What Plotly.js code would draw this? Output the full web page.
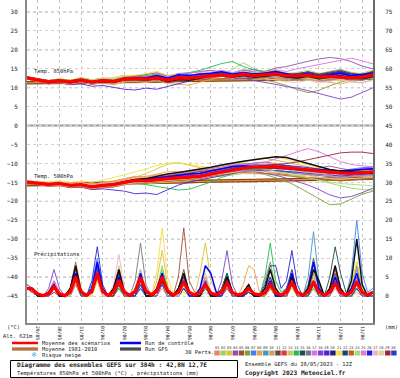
<!DOCTYPE html>
<html><head><meta charset="utf-8">
<script src="https://cdn.plot.ly/plotly-3.0.1.min.js"></script>
<style>html,body{margin:0;padding:0;background:#fff}#chart{width:400px;height:378px}</style>
</head><body><div id="chart"></div>
<script>
// ---------- DATA ----------
const hours12 = [0,12,24,36,48,60,72,84,96,108,120,132,144,156,168,180,192,204,216,228,240,252,264,276,288,300,312,324,336,348,360,372,384];
const hours6 = [0,6,12,18,24,30,36,42,48,54,60,66,72,78,84,90,96,102,108,114,120,126,132,138,144,150,156,162,168,174,180,186,192,198,204,210,216,222,228,234,240,246,252,258,264,270,276,282,288,294,300,306,312,318,324,330,336,342,348,354,360,366,372,378,384];
const tickHours = [12,36,60,84,108,132,156,180,204,228,252,276,300,324,348,372];
const dateLabels = ["29/05","30/05","31/05","01/06","02/06","03/06","04/06","05/06","06/06","07/06","08/06","09/06","10/06","11/06","12/06","13/06"];
const leftTicks = [-45,-40,-35,-30,-25,-20,-15,-10,-5,0,5,10,15,20,25,30];
const rightTicks = [0,5,10,15,20,25,30,35,40,45,50,55,60,65,70,75];
const pertNames = ["01","02","03","04","05","06","07","08","09","10","11","12","13","14","15","16","17","18","19","20","21","22","23","24","25","26","27","28","29","30"];
const pertColors = ["#f08070","#a0d060","#e0c030","#9050b0","#a05030","#80a030","#4080f0","#f0a040","#4098c8","#d0a060","#604848","#e03838","#c8c870","#20c050","#204858","#707888","#e070e0","#8040d0","#5020e0","#202070","#f0e040","#184080","#c06020","#a0e080","#e080c0","#2020e0","#f0b0c8","#e0d0a0","#a02040","#2840c0"];

// Temperature 850 hPa (°C), 12-hourly
const t850Mean = [12.6,12.0,11.5,11.8,11.5,12.0,11.5,11.8,11.6,12.3,12.4,12.2,12.6,12.0,12.6,12.5,12.8,13.0,13.4,13.0,13.6,13.2,13.3,13.6,13.2,13.1,13.3,12.8,13.0,12.9,12.6,12.8,13.4];
const t850Clim = [11.3,11.3,11.4,11.4,11.5,11.5,11.5,11.6,11.6,11.7,11.7,11.8,11.8,11.8,11.9,11.9,12.0,12.0,12.0,12.1,12.1,12.2,12.2,12.2,12.3,12.3,12.4,12.4,12.4,12.5,12.5,12.6,12.6];
const t850Control = [12.6,12.0,11.5,11.8,11.5,12.0,11.5,11.9,11.7,12.4,12.6,12.6,13.2,12.6,13.4,13.2,13.6,13.8,14.2,13.6,14.0,13.6,13.8,14.2,13.6,13.2,13.6,13.0,13.4,13.8,13.2,13.4,13.8];
const t850Gfs = [12.6,12.0,11.4,11.7,11.3,11.8,11.3,11.6,11.4,12.1,12.2,12.0,12.4,11.6,12.2,12.0,12.6,13.0,13.4,12.8,13.2,12.8,13.0,13.4,12.8,12.6,13.0,12.4,12.8,13.2,12.6,12.4,13.0];
const t850Perts = [
[12.4,11.6,11.0,12.0,11.2,12.4,11.9,12.6,12.1,13.1,12.6,11.9,13.2,12.3,13.5,13.0,14.0,13.4,14.4,13.4,14.2,13.0,12.8,13.9,12.4,12.3,13.1,12.0,12.9,13.7,13.0,12.3,13.1],
[12.8,12.4,11.9,11.4,10.8,11.6,11.0,11.3,10.7,11.6,11.9,12.7,13.4,12.5,13.1,12.0,12.3,12.9,13.8,14.8,16.6,15.0,13.8,13.0,12.6,13.5,13.9,12.8,12.2,11.8,12.9,13.6,14.2],
[12.5,12.3,11.9,12.3,12.0,12.7,12.1,12.5,12.6,13.3,12.9,13.6,14.0,12.7,12.4,11.8,12.1,12.7,13.2,12.2,13.3,14.0,14.4,14.8,13.5,12.8,12.4,11.8,12.5,13.0,13.8,13.1,12.4],
[12.7,11.8,11.2,11.4,10.9,11.3,11.0,11.8,11.9,12.8,13.1,13.4,13.9,13.1,13.7,13.8,14.3,14.6,14.1,13.7,14.5,14.8,14.3,15.2,15.6,16.4,17.0,17.6,18.0,17.7,16.9,15.7,15.0],
[12.9,12.3,11.6,11.9,11.8,12.4,11.9,11.9,11.4,12.0,12.0,11.6,12.0,11.3,11.8,12.3,12.0,12.5,13.1,12.4,13.0,12.6,13.3,13.5,12.6,12.4,13.3,12.2,11.8,12.5,12.0,12.9,13.4],
[12.4,11.7,11.1,11.9,11.3,12.2,11.3,12.1,11.8,12.6,12.2,12.5,13.0,12.1,13.0,12.5,13.4,13.8,14.2,13.3,13.9,12.8,12.2,11.4,10.6,9.5,8.7,9.3,10.5,11.5,12.2,12.8,13.5],
[12.6,12.2,11.8,11.9,11.6,12.3,11.8,11.6,11.4,12.3,12.7,12.8,13.2,12.3,13.2,13.6,13.1,13.8,14.4,13.7,14.6,14.1,13.5,14.4,13.9,13.3,14.2,13.5,14.3,14.8,14.0,13.5,14.4],
[12.7,11.9,11.3,12.1,11.2,11.7,11.1,11.4,11.0,11.8,11.9,11.4,11.8,11.1,10.9,10.7,11.5,12.1,13.0,12.5,13.5,13.8,13.1,12.4,11.8,12.5,12.9,12.0,11.4,11.0,11.7,12.3,13.0],
[12.5,12.1,11.7,11.5,11.8,12.5,11.9,12.2,12.2,12.9,12.9,12.2,12.5,12.4,13.0,12.4,13.1,12.7,13.4,12.6,13.1,12.5,12.9,13.4,12.7,13.6,14.0,13.1,13.8,14.2,13.3,12.7,13.5],
[12.3,11.8,11.2,11.6,11.1,11.7,11.7,12.0,12.1,12.7,12.5,13.0,13.4,12.2,13.2,12.7,13.4,13.6,14.0,13.1,13.8,13.1,14.0,14.6,13.5,13.1,13.2,12.2,12.9,13.4,12.4,12.3,13.1],
[12.6,11.9,11.7,12.2,11.7,12.1,11.2,11.5,11.3,11.9,12.1,11.8,12.3,11.6,12.2,12.0,12.5,13.1,13.6,12.7,13.5,12.9,13.6,14.0,13.1,12.9,13.6,12.6,13.3,13.1,12.4,12.9,13.8],
[12.8,12.4,11.9,12.3,11.8,12.4,11.8,12.1,12.1,12.8,12.5,12.1,12.9,11.9,12.9,12.7,13.2,13.4,13.8,12.9,13.8,13.5,13.7,14.2,13.3,13.1,13.8,13.1,13.8,13.9,13.3,13.1,13.9],
[12.4,11.6,11.1,11.3,11.0,11.5,11.0,11.2,10.9,11.5,11.6,11.4,12.1,11.7,12.5,12.7,13.4,12.9,13.8,13.1,14.2,13.5,13.1,12.7,12.2,12.9,12.1,11.7,12.5,13.1,13.5,13.9,14.6],
[12.6,12.3,11.9,12.1,11.9,12.5,12.1,12.4,12.3,13.0,13.1,13.2,13.6,12.9,13.6,14.0,14.6,15.4,16.4,16.9,15.6,14.7,14.1,13.5,13.1,12.5,12.9,12.1,12.7,13.1,12.3,12.1,12.9],
[12.7,12.0,11.4,11.7,11.2,11.9,11.5,11.9,11.7,12.5,12.6,12.5,12.9,11.9,12.5,12.1,12.7,13.1,13.5,12.7,13.3,12.9,13.3,13.7,12.9,12.7,13.3,12.5,12.9,13.3,12.7,12.5,13.3],
[12.4,11.7,11.3,11.6,11.2,11.7,11.2,11.4,11.2,11.8,12.0,12.0,12.5,11.9,12.5,12.3,12.7,12.9,13.1,12.5,12.9,12.5,12.7,12.9,12.3,12.1,12.5,11.9,12.1,12.5,12.1,11.9,12.7],
[12.8,12.2,11.8,12.0,11.6,12.2,11.6,11.9,11.9,12.6,12.8,12.9,13.4,12.9,13.8,13.9,14.3,14.1,14.6,14.0,14.8,14.3,13.8,14.7,14.3,15.0,15.6,16.0,16.8,17.4,17.8,17.1,16.3],
[12.6,11.9,11.3,11.5,11.1,11.6,11.0,11.4,11.2,11.9,11.9,11.7,12.1,11.5,12.1,11.9,12.3,12.6,13.1,12.3,12.6,11.9,11.5,10.9,10.3,9.9,9.2,8.4,7.6,7.0,7.5,8.7,10.0],
[12.5,11.8,11.1,11.3,10.8,11.0,10.4,10.6,10.1,9.6,9.4,9.9,9.6,10.3,11.1,11.8,12.5,12.9,13.6,13.0,13.5,13.0,13.3,13.8,12.9,12.7,13.3,12.5,13.1,13.5,12.7,12.5,13.3],
[12.7,12.2,11.7,12.1,11.7,12.3,11.8,12.2,11.9,12.6,12.5,12.2,12.9,12.2,12.9,12.6,13.1,13.5,14.0,13.2,14.0,13.5,13.5,14.0,13.2,13.8,14.2,13.4,14.0,14.4,13.6,13.4,14.2],
[12.8,12.3,11.9,12.4,12.0,12.6,12.1,12.5,12.4,13.2,13.3,13.7,14.3,13.3,13.5,13.0,13.3,13.8,14.0,13.2,13.7,13.1,13.7,14.2,13.4,12.9,12.5,12.0,12.6,13.1,12.7,12.3,13.1],
[12.5,11.8,11.2,11.5,11.1,11.8,11.3,11.6,11.3,12.0,12.1,12.1,12.5,11.9,12.5,12.6,13.0,13.3,13.7,13.2,13.7,13.5,13.7,14.2,13.7,13.5,14.0,13.5,13.7,14.2,13.7,13.2,14.0],
[12.3,11.6,11.0,11.3,10.9,11.4,10.9,11.3,11.1,11.7,11.9,11.8,12.3,11.6,12.1,11.9,12.3,12.8,13.3,12.7,13.1,12.7,13.0,13.5,12.7,12.5,13.1,12.3,12.6,13.1,12.5,12.3,13.1],
[12.7,12.4,11.9,12.2,12.0,12.5,12.1,12.4,12.3,13.0,12.9,12.8,13.2,12.5,13.2,12.9,13.4,13.8,14.2,13.7,14.4,13.9,14.1,14.6,13.8,14.1,14.6,13.8,14.3,14.8,14.0,13.7,14.6],
[12.8,12.0,11.4,11.8,11.3,11.8,11.2,11.5,11.3,12.1,12.2,12.2,12.7,11.9,12.7,12.3,12.9,13.3,13.8,12.9,13.7,13.1,13.1,12.9,12.2,11.8,12.3,11.6,11.9,12.3,11.6,11.4,12.1],
[12.6,12.2,11.8,11.7,11.4,12.2,11.7,12.1,11.8,12.5,12.6,12.5,13.0,12.1,12.9,12.6,13.1,13.5,14.0,13.1,13.9,13.6,13.9,14.4,13.6,13.3,13.9,13.1,13.6,14.1,13.3,13.1,13.9],
[12.4,11.8,11.2,12.0,11.8,12.3,11.9,12.3,12.1,12.8,12.8,12.7,13.2,12.7,13.4,13.1,13.6,13.7,14.2,13.3,14.2,13.6,13.3,13.9,13.1,12.9,13.5,12.7,13.0,13.5,12.7,12.5,13.3],
[12.6,11.8,11.3,11.4,11.0,11.6,11.0,11.4,11.1,11.8,11.9,11.8,12.2,11.5,12.2,12.0,12.5,12.7,13.3,12.5,13.2,12.7,12.5,12.0,11.6,11.4,12.0,11.2,11.7,12.2,11.5,11.2,12.0],
[12.9,12.4,11.9,12.2,11.9,12.4,11.8,12.2,12.0,12.7,12.9,12.8,13.2,12.5,13.2,12.9,13.4,13.5,14.0,13.2,14.0,13.7,13.9,14.4,13.6,13.7,14.2,13.6,14.1,14.6,13.8,13.5,14.3],
[12.5,11.9,11.4,11.9,11.4,12.1,11.4,11.9,11.5,12.4,12.3,12.4,12.9,12.1,12.9,12.5,13.1,13.3,13.9,13.1,13.9,13.3,13.4,13.9,13.1,13.2,13.7,12.9,13.2,13.7,12.9,12.7,13.5]
];

// Temperature 500 hPa (°C), 12-hourly
const t500Mean = [-14.9,-15.2,-15.5,-15.3,-15.8,-15.6,-16.2,-15.8,-15.6,-15.0,-14.5,-14.6,-14.2,-14.0,-13.8,-13.6,-13.4,-12.8,-12.2,-11.6,-11.2,-11.0,-11.0,-10.9,-11.2,-11.5,-11.8,-12.0,-12.4,-12.5,-12.6,-12.4,-12.2];
const t500Clim = [-15.6,-15.6,-15.5,-15.5,-15.4,-15.4,-15.3,-15.3,-15.2,-15.2,-15.1,-15.0,-15.0,-14.9,-14.9,-14.8,-14.7,-14.7,-14.6,-14.6,-14.5,-14.5,-14.4,-14.4,-14.3,-14.3,-14.2,-14.2,-14.1,-14.1,-14.0,-14.0,-13.9];
const t500Control = [-14.9,-15.2,-15.5,-15.3,-15.8,-15.6,-16.2,-15.8,-15.5,-14.9,-14.4,-14.2,-13.8,-13.4,-13.0,-12.8,-12.6,-12.0,-11.4,-10.8,-10.6,-10.8,-11.0,-11.2,-11.4,-11.6,-11.8,-11.6,-11.8,-12.0,-11.8,-11.6,-11.4];
const t500Gfs = [-14.9,-15.2,-15.5,-15.3,-15.8,-15.6,-16.2,-15.8,-15.5,-14.8,-14.2,-14.0,-13.4,-12.8,-12.4,-12.0,-11.6,-11.0,-10.4,-9.8,-9.4,-9.0,-8.6,-8.2,-8.4,-9.2,-10.2,-11.0,-11.6,-12.0,-12.2,-12.4,-12.6];
const t500Perts = [
[-14.7,-14.8,-15.0,-14.7,-15.3,-14.9,-15.6,-15.0,-14.6,-14.0,-13.4,-13.7,-13.0,-12.9,-12.4,-12.7,-12.2,-11.6,-11.0,-10.5,-10.2,-10.7,-11.3,-12.0,-12.7,-13.3,-13.0,-13.7,-14.1,-13.8,-13.1,-12.7,-12.3],
[-15.1,-15.5,-15.9,-15.6,-16.3,-16.0,-16.7,-16.2,-16.0,-15.5,-14.8,-14.3,-13.7,-13.1,-12.4,-11.9,-11.7,-11.2,-10.9,-10.2,-9.9,-10.1,-10.7,-11.4,-12.1,-12.9,-13.7,-14.5,-15.3,-15.9,-16.5,-16.9,-17.1],
[-14.9,-15.0,-15.2,-14.9,-15.4,-15.1,-15.7,-15.3,-14.9,-14.4,-13.6,-12.7,-11.4,-10.2,-9.8,-10.5,-11.2,-11.8,-12.3,-11.5,-10.9,-10.5,-10.0,-10.7,-11.6,-12.3,-12.9,-13.1,-12.6,-12.1,-11.7,-12.2,-12.7],
[-14.6,-14.9,-15.1,-15.1,-15.5,-15.2,-15.7,-15.5,-15.1,-14.5,-14.1,-14.0,-13.6,-13.1,-12.8,-12.3,-12.0,-11.5,-11.0,-10.5,-10.2,-9.8,-9.6,-10.1,-10.7,-11.1,-11.6,-11.1,-10.7,-11.3,-11.8,-11.3,-10.9],
[-15.2,-15.6,-16.0,-15.8,-16.4,-16.2,-16.8,-16.4,-16.2,-15.6,-15.2,-15.3,-14.9,-14.7,-14.5,-14.2,-13.8,-13.4,-12.9,-12.5,-12.1,-11.9,-12.1,-12.5,-12.9,-13.3,-13.8,-13.9,-14.3,-14.6,-14.3,-14.1,-13.9],
[-14.8,-15.3,-15.6,-15.2,-15.9,-15.5,-16.3,-15.7,-15.8,-15.2,-14.8,-15.0,-14.6,-14.1,-13.7,-13.3,-12.9,-12.5,-12.1,-11.7,-11.7,-12.1,-12.9,-13.7,-14.7,-16.1,-17.7,-19.5,-20.9,-20.7,-19.5,-18.1,-17.3],
[-14.9,-15.0,-15.3,-15.5,-15.7,-15.4,-16.0,-15.9,-15.4,-14.8,-14.2,-14.3,-13.8,-13.5,-13.0,-12.6,-12.5,-11.9,-11.3,-10.7,-10.3,-10.6,-10.8,-10.5,-11.0,-11.1,-11.6,-11.7,-12.2,-11.9,-11.5,-11.1,-10.9],
[-14.8,-15.3,-15.2,-15.0,-15.3,-15.1,-15.5,-15.1,-14.7,-14.1,-13.5,-13.4,-12.8,-12.2,-12.1,-12.7,-13.3,-12.6,-11.9,-11.3,-10.9,-10.7,-10.3,-9.9,-10.5,-11.2,-11.8,-12.5,-13.1,-13.5,-13.0,-12.6,-12.1],
[-15.0,-15.4,-15.7,-15.5,-16.0,-15.9,-16.5,-16.1,-15.9,-15.3,-14.9,-14.8,-14.4,-14.2,-13.9,-13.7,-13.3,-12.7,-12.1,-11.7,-11.5,-11.5,-11.7,-11.9,-12.1,-12.3,-12.5,-12.7,-12.9,-13.1,-12.9,-12.7,-12.5],
[-14.7,-14.9,-15.1,-14.9,-15.4,-15.2,-15.7,-15.3,-15.1,-14.5,-13.9,-13.8,-13.4,-13.0,-12.6,-12.2,-11.8,-11.2,-10.6,-10.0,-9.4,-9.0,-8.6,-9.1,-9.7,-10.3,-10.9,-11.5,-12.1,-12.6,-12.8,-13.0,-13.2],
[-15.1,-15.4,-15.9,-15.7,-16.2,-16.0,-16.6,-16.2,-16.0,-15.5,-15.1,-15.0,-14.6,-14.3,-14.1,-13.9,-13.7,-13.1,-12.5,-12.1,-11.7,-11.5,-11.3,-11.1,-11.5,-11.9,-12.3,-12.5,-12.9,-12.7,-12.5,-12.3,-12.1],
[-14.8,-15.0,-15.2,-15.0,-15.5,-15.3,-15.8,-15.4,-15.2,-14.5,-13.9,-14.0,-13.6,-13.2,-13.1,-12.9,-12.7,-12.1,-11.5,-10.9,-10.5,-10.3,-10.5,-10.3,-10.7,-11.1,-11.3,-11.7,-12.1,-11.9,-11.7,-11.5,-11.3],
[-15.2,-15.6,-15.9,-15.7,-16.2,-16.0,-16.6,-16.3,-16.1,-15.7,-15.3,-15.4,-15.2,-15.0,-14.8,-14.5,-14.1,-13.7,-13.3,-12.9,-12.7,-12.7,-12.9,-13.1,-13.3,-13.1,-12.9,-13.1,-13.5,-13.7,-13.5,-13.3,-13.1],
[-15.0,-15.3,-15.7,-15.4,-16.0,-15.8,-16.4,-16.0,-15.8,-15.4,-15.2,-15.6,-16.0,-16.6,-17.0,-16.8,-15.9,-14.9,-13.7,-12.7,-11.9,-11.5,-11.3,-11.1,-11.5,-11.9,-12.3,-12.7,-13.1,-13.3,-13.5,-13.3,-13.1],
[-14.8,-15.1,-15.4,-15.2,-15.7,-15.5,-16.1,-15.7,-15.5,-14.9,-14.5,-14.5,-14.1,-13.7,-13.5,-13.3,-13.1,-12.5,-11.9,-11.3,-10.9,-10.7,-10.7,-10.5,-10.9,-11.3,-11.7,-11.9,-12.3,-12.5,-12.3,-12.1,-11.9],
[-15.1,-15.5,-15.8,-15.6,-16.1,-15.9,-16.4,-16.1,-15.9,-15.3,-14.9,-14.9,-14.5,-14.3,-14.1,-13.9,-13.7,-13.3,-12.7,-12.3,-11.9,-11.7,-11.7,-11.9,-12.3,-12.7,-12.9,-13.3,-13.5,-13.7,-13.5,-13.1,-12.9],
[-14.7,-14.9,-15.2,-15.0,-15.4,-15.2,-15.8,-15.4,-15.2,-14.6,-14.0,-14.1,-13.7,-13.3,-12.9,-12.5,-12.1,-11.5,-10.9,-10.5,-10.3,-10.1,-9.7,-8.9,-7.9,-6.9,-6.1,-6.9,-8.3,-9.5,-10.3,-10.7,-10.9],
[-15.0,-15.4,-15.7,-15.5,-16.0,-15.8,-16.4,-16.0,-15.8,-15.2,-14.8,-14.7,-14.5,-14.3,-14.1,-13.9,-13.5,-12.9,-12.5,-12.1,-11.9,-12.1,-12.5,-13.1,-13.9,-14.7,-15.7,-16.9,-18.3,-19.1,-18.7,-17.7,-16.5],
[-14.9,-15.3,-15.8,-15.7,-16.3,-16.2,-16.9,-16.7,-16.9,-17.3,-18.0,-17.8,-18.2,-16.9,-15.7,-14.9,-14.3,-13.7,-13.1,-12.5,-12.1,-11.9,-11.7,-11.9,-12.1,-12.3,-12.7,-12.9,-13.1,-13.3,-13.1,-12.9,-12.7],
[-14.8,-15.0,-15.3,-15.1,-15.6,-15.4,-15.9,-15.5,-15.3,-14.7,-14.2,-14.3,-13.9,-13.5,-13.3,-13.1,-12.9,-12.3,-11.7,-11.1,-10.7,-10.5,-10.5,-10.7,-11.1,-11.5,-11.9,-12.1,-12.5,-12.7,-12.5,-12.3,-12.1],
[-14.6,-14.7,-14.9,-14.6,-15.0,-14.6,-15.0,-14.4,-13.8,-13.0,-12.2,-11.5,-10.5,-9.9,-9.8,-10.3,-10.7,-11.1,-10.5,-9.9,-9.3,-8.9,-8.5,-8.3,-8.9,-9.7,-10.5,-11.3,-11.9,-12.3,-12.1,-11.9,-11.7],
[-15.0,-15.3,-15.6,-15.4,-15.9,-15.7,-16.3,-15.9,-15.7,-15.1,-14.7,-14.7,-14.3,-13.9,-13.7,-13.5,-13.3,-12.7,-12.1,-11.5,-11.3,-11.1,-11.1,-11.3,-11.5,-11.9,-12.1,-12.3,-12.7,-12.9,-12.7,-12.5,-12.3],
[-15.3,-15.7,-16.0,-15.9,-16.4,-16.2,-16.8,-16.4,-16.2,-15.6,-15.2,-15.1,-14.9,-14.6,-14.4,-14.2,-14.0,-13.4,-13.0,-12.6,-12.4,-12.4,-12.6,-12.8,-13.2,-13.6,-14.0,-14.2,-14.4,-14.6,-14.4,-14.2,-14.0],
[-14.8,-14.9,-15.1,-14.9,-15.4,-15.2,-15.7,-15.3,-15.1,-14.5,-13.9,-13.8,-13.4,-13.2,-13.0,-12.8,-12.4,-11.8,-11.4,-11.0,-10.8,-11.0,-11.5,-12.1,-12.7,-13.3,-13.9,-14.5,-14.9,-15.3,-15.5,-15.7,-15.9],
[-15.0,-15.4,-15.8,-15.5,-16.1,-15.8,-16.5,-16.0,-15.9,-15.2,-14.8,-14.5,-14.1,-13.7,-13.5,-13.3,-12.9,-12.3,-11.7,-11.1,-10.7,-10.5,-10.3,-10.5,-10.9,-11.5,-12.1,-12.7,-13.3,-13.7,-13.5,-13.3,-13.1],
[-14.9,-15.1,-15.4,-15.2,-15.7,-15.5,-16.0,-15.6,-15.4,-14.8,-14.4,-14.5,-14.1,-13.9,-13.7,-13.5,-13.1,-12.5,-11.9,-11.3,-10.9,-10.7,-10.5,-10.3,-10.5,-10.7,-11.1,-11.5,-11.9,-12.1,-11.9,-11.7,-11.5],
[-14.7,-14.9,-15.1,-14.9,-15.4,-15.2,-15.7,-15.3,-15.1,-14.5,-13.9,-13.8,-13.4,-13.0,-12.6,-12.4,-12.2,-11.6,-11.2,-10.8,-10.6,-10.6,-10.8,-11.2,-11.6,-12.0,-12.4,-12.6,-12.8,-13.0,-12.8,-12.6,-12.4],
[-15.2,-15.6,-15.9,-15.7,-16.2,-16.0,-16.6,-16.2,-16.0,-15.5,-15.1,-15.0,-14.8,-14.4,-14.2,-14.0,-13.8,-13.2,-12.8,-12.4,-12.0,-12.0,-12.2,-12.4,-12.6,-13.0,-13.4,-13.6,-14.0,-14.2,-14.0,-13.8,-13.6],
[-14.8,-15.0,-15.3,-15.1,-15.6,-15.4,-16.0,-15.6,-15.4,-14.8,-14.4,-14.2,-13.8,-13.4,-13.0,-12.6,-12.2,-11.8,-11.4,-11.0,-10.8,-10.8,-10.6,-10.4,-10.0,-9.6,-9.0,-8.4,-7.8,-7.2,-7.0,-7.0,-7.4],
[-15.0,-15.3,-15.7,-15.4,-16.0,-15.7,-16.4,-15.9,-15.8,-15.1,-14.7,-14.7,-14.3,-13.9,-13.5,-13.3,-13.1,-12.5,-11.9,-11.3,-10.9,-10.7,-10.7,-10.9,-11.1,-11.5,-11.9,-12.1,-12.5,-12.7,-12.5,-12.3,-12.1]
];

// Precipitation (mm), 6-hourly
const prMean = [2.0,1.8,0.5,0.1,0.6,2.4,0.6,0.1,1.0,5.0,1.0,0.2,1.2,6.0,1.2,0.2,1.0,4.2,1.0,0.2,1.2,4.8,1.4,0.3,1.4,5.0,1.4,0.3,1.0,3.7,1.0,0.3,0.9,3.0,0.8,0.3,1.0,3.4,0.9,0.3,0.6,2.0,0.6,0.3,0.8,3.0,0.8,0.3,1.0,3.7,1.0,0.3,1.0,3.7,1.0,0.3,0.9,3.4,0.9,0.3,1.0,3.7,1.0,0.3,1.0];
const prControl = [2,2,0,0,1,3,0,0,1,6,1,0,2,9,2,0,1,5,1,0,1,6,1,0,2,6,1,0,1,4,0,0,2,8,6,1,1,5,1,0,0,2,0,0,1,4,0,0,1,6,1,0,2,9,2,0,1,5,1,0,2,6,1,0,1];
const prGfs = [2,2,0,0,1,3,0,0,2,8,1,0,1,6,1,0,2,7,1,0,1,5,0,0,1,4,1,0,2,6,1,0,0,3,0,0,1,5,1,0,1,3,0,0,2,7,2,0,1,5,1,0,2,7,4,0,2,8,2,0,4,15,3,0,1];
const prPerts = [
[2,2,0,0,0,3,0,0,1,6,1,0,2,8,1,0,0,3,0,0,1,5,2,0,2,6,1,0,0,2,0,0,1,4,1,0,0,2,0,0,0,1,0,0,1,3,0,0,2,5,1,0,1,4,2,0,0,3,0,0,1,5,1,0,1],
[2,1,0,0,1,2,0,0,2,5,1,0,0,4,0,0,1,6,0,0,0,3,1,0,2,8,2,0,1,5,1,0,0,1,0,0,2,6,1,0,1,3,0,0,2,7,1,0,0,2,0,0,1,3,1,0,2,6,1,0,0,2,0,0,0],
[2,2,1,0,0,2,0,0,1,4,0,0,2,9,2,0,0,2,0,0,2,6,1,0,4,12,3,0,0,1,0,0,6,14,4,1,1,3,0,0,0,1,0,0,0,2,0,0,1,4,0,0,0,5,1,0,1,3,0,0,3,9,2,0,1],
[3,2,0,0,1,4,1,0,0,3,0,0,1,7,1,0,2,5,1,0,0,2,0,0,1,4,0,0,2,6,1,0,0,2,0,0,1,5,1,0,0,2,0,0,1,4,1,0,2,6,1,0,0,3,0,0,1,5,2,0,2,8,1,0,1],
[2,1,0,0,0,1,0,0,1,5,0,0,2,6,1,0,1,4,0,0,2,7,1,0,1,5,1,0,5,18,4,1,0,2,0,0,1,3,0,0,0,1,0,0,1,2,0,0,0,3,0,0,1,6,1,0,2,5,1,0,0,2,0,0,0],
[2,2,0,0,1,3,0,0,2,6,1,0,1,5,1,0,0,3,0,0,1,4,0,0,2,7,1,0,1,4,0,0,0,3,0,0,2,6,1,0,1,2,0,0,4,9,2,0,1,4,1,0,0,2,0,0,1,4,0,0,1,3,0,0,1],
[2,1,0,0,0,2,0,0,1,4,1,0,3,10,2,0,1,5,1,0,0,2,0,0,1,4,0,0,0,2,0,0,1,3,0,0,0,2,0,0,0,1,0,0,1,3,0,0,2,5,1,0,1,4,1,0,2,5,1,0,6,20,6,1,2],
[2,2,0,0,1,2,0,0,0,3,0,0,1,6,1,0,2,7,2,0,1,4,1,0,0,2,0,0,1,3,0,0,0,2,0,0,1,3,1,0,3,8,7,1,0,2,0,0,1,3,0,0,0,2,0,0,1,4,1,0,0,1,0,0,0],
[2,1,0,0,1,3,0,0,2,7,1,0,1,5,0,0,0,2,0,0,2,6,1,0,1,4,0,0,0,2,0,0,1,3,0,0,0,4,1,0,0,1,0,0,1,3,0,0,2,5,1,0,5,17,4,0,1,6,1,0,2,7,2,0,1],
[2,2,0,0,0,2,0,0,1,5,1,0,2,7,1,0,1,3,0,0,0,5,1,0,1,6,1,0,1,4,1,0,0,3,0,0,1,4,0,0,0,2,0,0,1,4,1,0,0,3,0,0,1,3,0,0,0,2,0,0,1,4,0,0,0],
[2,2,0,0,1,2,0,0,0,4,0,0,2,8,2,0,1,6,1,0,2,5,1,0,1,3,0,0,2,7,1,0,1,4,1,0,2,5,1,0,1,3,0,0,0,2,0,0,2,6,1,0,3,10,3,0,1,5,1,0,0,3,0,0,1],
[3,2,0,0,0,1,0,0,1,6,1,0,1,5,1,0,0,4,0,0,1,6,1,0,2,5,1,0,0,3,0,0,1,4,1,0,0,2,0,0,1,3,0,0,2,5,1,0,1,4,0,0,0,3,0,0,1,4,1,0,1,5,1,0,1],
[2,1,0,0,0,2,0,0,2,5,0,0,1,4,0,0,2,8,1,0,1,3,0,0,0,4,1,0,1,3,0,0,2,5,1,0,1,3,0,0,0,2,0,0,1,3,0,0,0,4,1,0,1,5,1,0,0,2,0,0,0,3,0,0,0],
[2,2,0,0,1,3,0,0,1,6,1,0,2,7,1,0,0,2,0,0,1,5,1,0,2,7,2,0,1,3,0,0,0,4,1,0,1,6,1,0,1,3,0,0,5,14,4,1,2,6,1,0,0,3,0,0,2,6,2,0,1,3,0,0,1],
[2,1,0,0,0,2,0,0,1,4,1,0,1,6,1,0,1,4,0,0,0,3,0,0,1,4,0,0,2,5,1,0,0,2,0,0,2,6,1,0,0,1,0,0,1,3,0,0,1,4,1,0,2,7,2,0,5,13,6,1,1,4,0,0,1],
[2,2,0,0,1,3,0,0,0,4,0,0,1,5,0,0,2,6,1,0,4,14,3,0,1,5,1,0,0,2,0,0,1,3,0,0,0,3,0,0,1,2,0,0,0,3,0,0,1,5,1,0,0,2,0,0,1,3,0,0,2,5,1,0,1],
[2,1,0,0,1,4,1,0,2,6,1,0,1,5,0,0,0,3,0,0,2,6,1,0,1,5,1,0,1,4,0,0,2,5,1,0,0,3,0,0,1,2,0,0,2,5,1,0,0,3,0,0,1,4,1,0,0,3,0,0,1,4,0,0,0],
[2,2,0,0,2,7,2,0,1,4,1,0,2,6,1,0,1,4,0,0,0,2,0,0,1,4,1,0,0,3,0,0,1,3,0,0,4,12,3,0,1,3,0,0,0,2,0,0,1,4,1,0,1,3,0,0,2,6,1,0,0,3,0,0,1],
[2,1,0,0,0,2,0,0,1,5,1,0,2,7,1,0,1,5,1,0,1,4,0,0,0,3,0,0,1,4,1,0,0,2,0,0,1,4,0,0,0,2,0,0,1,3,0,0,0,3,0,0,2,6,1,0,1,4,0,0,0,2,0,0,0],
[2,2,0,0,1,2,0,0,2,6,1,0,1,8,2,0,2,6,1,0,1,5,1,0,0,4,0,0,2,6,1,0,1,3,0,0,0,4,1,0,1,2,0,0,0,3,0,0,2,7,1,0,1,4,0,0,0,3,0,0,1,4,1,0,1],
[2,2,0,0,1,3,0,0,1,5,0,0,0,4,0,0,1,3,0,0,2,6,1,0,6,18,5,1,1,4,0,0,2,6,1,0,1,3,0,0,0,2,0,0,1,4,0,0,0,2,0,0,2,7,1,0,1,3,0,0,2,9,2,0,1],
[2,1,0,0,0,2,0,0,1,4,0,0,2,6,1,0,0,3,0,0,1,5,1,0,2,6,1,0,0,2,0,0,1,4,1,0,0,3,0,0,1,3,0,0,2,5,1,0,1,6,1,0,0,4,0,0,1,3,0,0,0,2,0,0,0],
[2,2,0,0,1,2,0,0,2,9,2,0,1,6,1,0,0,3,0,0,1,4,0,0,1,5,1,0,2,6,1,0,0,3,0,0,2,5,1,0,1,3,0,0,0,2,0,0,1,5,1,0,0,3,0,0,2,7,1,0,1,3,0,0,1],
[2,1,0,0,1,3,0,0,0,4,0,0,2,5,1,0,1,4,1,0,0,3,0,0,2,7,1,0,1,3,0,0,0,2,0,0,1,5,1,0,0,2,0,0,2,8,2,0,1,4,0,0,0,2,0,0,1,5,1,0,0,2,0,0,0],
[2,2,0,0,0,2,0,0,1,6,1,0,1,7,1,0,2,5,1,0,1,6,1,0,0,4,0,0,1,3,0,0,2,5,1,0,0,3,0,0,1,2,0,0,1,4,1,0,0,3,0,0,2,8,2,0,1,4,0,0,1,3,0,0,1],
[2,2,0,0,1,3,0,0,2,6,1,0,4,13,3,0,1,5,1,0,0,3,0,0,1,4,0,0,2,5,1,0,1,3,0,0,0,4,1,0,1,2,0,0,3,8,8,2,4,12,3,0,1,4,1,0,0,3,0,0,1,4,0,0,0],
[2,1,0,0,0,2,0,0,1,4,1,0,1,5,0,0,3,11,2,0,1,4,1,0,1,5,1,0,0,3,0,0,1,4,1,0,1,5,1,0,0,2,0,0,1,3,0,0,2,6,1,0,1,3,0,0,0,2,0,0,1,3,0,0,1],
[2,2,0,0,1,3,0,0,0,5,1,0,2,6,1,0,1,4,0,0,2,7,2,0,1,4,0,0,0,3,0,0,2,6,1,0,1,4,0,0,1,3,0,0,0,2,0,0,1,4,1,0,2,6,1,0,1,4,1,0,0,3,0,0,0],
[2,1,0,0,1,2,0,0,2,7,1,0,1,5,1,0,0,3,0,0,1,5,1,0,2,6,1,0,1,5,1,0,0,3,0,0,1,4,1,0,0,2,0,0,1,4,0,0,0,3,0,0,1,4,1,0,2,8,2,0,1,4,1,0,1],
[2,2,0,0,0,2,0,0,1,5,0,0,2,7,1,0,1,5,1,0,0,4,0,0,1,5,1,0,2,6,1,0,1,4,0,0,0,3,0,0,1,2,0,0,1,3,0,0,2,5,1,0,0,3,0,0,1,4,1,0,0,2,0,0,0]
];

// ---------- LAYOUT HELPERS (pixel -> paper) ----------
const PL = 27, PR = 373, PT = 0, PB = 323;
const px = x => (x - PL) / (PR - PL);
const py = y => (PB - y) / (PB - PT);
const MONO = 'DejaVu Sans Mono, monospace';

// ---------- TRACES ----------
const traces = [];
function line(x, y, color, width, axis) {
  traces.push({x: x, y: y, type: 'scatter', mode: 'lines', yaxis: axis || 'y',
    line: {color: color, width: width}, hoverinfo: 'skip', showlegend: false});
}
line(hours12, t850Clim, '#8b4513', 3.5); line(hours12, t850Clim, '#f0a050', 1);
line(hours12, t500Clim, '#8b4513', 3.5); line(hours12, t500Clim, '#f0a050', 1);
for (let k = 0; k < pertColors.length; k++) {
  line(hours12, t850Perts[k], pertColors[k], 0.9);
  line(hours12, t500Perts[k], pertColors[k], 0.9);
  line(hours6, prPerts[k], pertColors[k], 0.9, 'y2');
}
line(hours12, t850Control, '#0000ff', 1.5); line(hours12, t500Control, '#0000ff', 1.5); line(hours6, prControl, '#0000ff', 1.5, 'y2');
line(hours12, t850Gfs, '#111111', 1.5); line(hours12, t500Gfs, '#111111', 1.5); line(hours6, prGfs, '#111111', 1.5, 'y2');
line(hours12, t850Mean, '#ff0000', 3.2); line(hours12, t500Mean, '#ff0000', 3.2); line(hours6, prMean, '#ff0000', 3.2, 'y2');

// ---------- SHAPES ----------
const shapes = [];
[-40,-30,-20,-10,10,20,30].forEach(v => shapes.push({type:'line', xref:'paper', yref:'y', x0:0, x1:1, y0:v, y1:v, layer:'below', line:{color:'#a8a8a8', width:1, dash:'dot'}}));
shapes.push({type:'line', xref:'paper', yref:'y', x0:0, x1:1, y0:0, y1:0, layer:'below', line:{color:'#9a9a9a', width:2}});
function seg(x0, x1, y, color, w) { shapes.push({type:'line', xref:'paper', yref:'paper', x0:px(x0), x1:px(x1), y0:py(y), y1:py(y), line:{color:color, width:w}}); }
seg(12, 38, 343, '#ff0000', 2.5);
seg(12, 38, 349, '#8b4513', 3); seg(12, 38, 349, '#f0a050', 1);
seg(120, 141, 343, '#0000ff', 2.5);
seg(120, 141, 349, '#222222', 3); seg(120, 141, 349, '#777777', 1);
for (let k = 0; k < pertColors.length; k++) {
  const cx = 217 + 6.1 * k;
  shapes.push({type:'rect', xref:'paper', yref:'paper', x0:px(cx - 2.7), x1:px(cx + 2.7), y0:py(355.5), y1:py(350.5), fillcolor:pertColors[k], line:{width:0}});
}
shapes.push({type:'rect', xref:'paper', yref:'paper', x0:px(10.5), x1:px(237.5), y0:py(377.5), y1:py(360.5), line:{color:'#000', width:1}, fillcolor:'rgba(0,0,0,0)'});

// ---------- ANNOTATIONS ----------
const ann = [];
function txt(x, y, s, size, opts) {
  ann.push(Object.assign({xref:'paper', yref:'paper', x:px(x), y:py(y), text:s, showarrow:false, xanchor:'left', yanchor:'middle',
    font:{family:MONO, size:size, color:'#222'}}, opts || {}));
}
txt(32, 71, 'Temp. 850hPa', 5.4);
txt(32, 176, 'Temp. 500hPa', 5.4);
txt(32, 254, 'Précipitations', 5.4);
txt(5, 327, '(°C)', 5.4);
txt(1, 336, 'Alt. 621m', 5.4);
txt(383, 327, '(mm)', 5.4);
txt(40, 343, 'Moyenne des scénarios', 5.4);
txt(40, 349, 'Moyenne 1981-2010', 5.4);
txt(40, 355, 'Risque neige', 5.4);
txt(29, 355, '❄', 7, {font:{family:'DejaVu Sans', size:7, color:'#4aa8e8'}});
txt(143, 343, 'Run de contrôle', 5.4);
txt(143, 349, 'Run GFS', 5.4);
txt(183, 352, '30 Perts.', 5.4);
for (let k = 0; k < pertNames.length; k++) {
  ann.push({xref:'paper', yref:'paper', x:px(217 + 6.1 * k), y:py(347), text:pertNames[k], showarrow:false, xanchor:'center', yanchor:'middle', font:{family:MONO, size:3.8, color:'#333'}});
}
txt(15, 365, '<b>Diagramme des ensembles GEFS sur 384h : 42,8N 12,7E</b>', 6.2);
txt(15, 373, 'Températures 850hPa et 500hPa (°C) , précipitations (mm)', 5.4);
txt(243, 364, 'Ensemble GEFS du 28/05/2023 - 12Z', 5.4);
txt(243, 373, '<b>Copyright 2023 Meteociel.fr</b>', 6.2);

// ---------- LAYOUT ----------
const layout = {
  width: 400, height: 378,
  margin: {l: PL, r: 400 - PR, t: PT, b: 378 - PB, pad: 0},
  paper_bgcolor: '#ffffff', plot_bgcolor: '#ffffff', showlegend: false,
  font: {family: MONO, size: 6, color: '#222'},
  xaxis: {range: [0, 384], tickmode: 'array', tickvals: tickHours, ticktext: dateLabels, tickangle: 90,
    showgrid: true, gridcolor: '#c4c4c4', griddash: 'dot', gridwidth: 1, zeroline: false,
    showline: true, linecolor: '#8a8a8a', linewidth: 2, ticks: '', tickfont: {family: MONO, size: 4.7, color: '#222'}},
  yaxis: {range: [-52.13, 33.17], tickmode: 'array', tickvals: leftTicks, showgrid: true, gridcolor: '#d2d2d2', griddash: 'dot', gridwidth: 1,
    zeroline: false, showline: true, linecolor: '#8a8a8a', linewidth: 2, ticks: 'outside', ticklen: 6, tickcolor: 'rgba(0,0,0,0)',
    tickfont: {family: MONO, size: 6, color: '#222'}},
  yaxis2: {range: [-7.13, 78.17], overlaying: 'y', side: 'right', tickmode: 'array', tickvals: rightTicks, showgrid: false, zeroline: false,
    showline: true, linecolor: '#6a6a6a', linewidth: 2, ticks: 'outside', ticklen: 9, tickcolor: 'rgba(0,0,0,0)',
    tickfont: {family: MONO, size: 6, color: '#222'}},
  shapes: shapes, annotations: ann
};
Plotly.newPlot('chart', traces, layout, {staticPlot: true, displayModeBar: false});
</script>
</body></html>
